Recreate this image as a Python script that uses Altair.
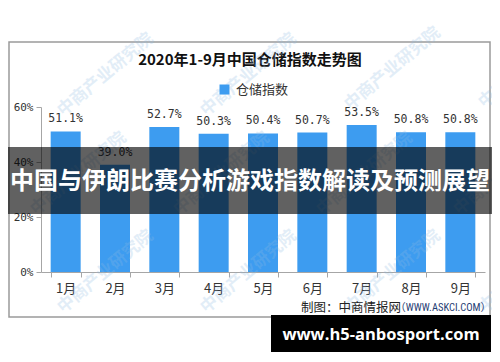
import altair as alt
import pandas as pd

# ---- data ----
months = ["1月", "2月", "3月", "4月", "5月", "6月", "7月", "8月", "9月"]
values = [51.1, 39.0, 52.7, 50.3, 50.4, 50.7, 53.5, 50.8, 50.8]
series_name = "仓储指数"
y_ticks = [0, 10, 20, 30, 40, 50, 60]
title_text = "2020年1-9月中国仓储指数走势图"
source_left = "制图：中商情报网"
source_right = "（WWW.ASKCI.COM）"
banner_text = "中国与伊朗比赛分析游戏指数解读及预测展望"
footer_text = "www.h5-anbosport.com"
watermark_text = "中商产业研究院"

df = pd.DataFrame({
    "month": months,
    "value": values,
    "series": [series_name] * len(months),
    "label": [f"{v:.1f}%" for v in values],
})

W, H = 444, 165
CJK = "Noto Sans CJK SC"
MONO = "DejaVu Sans Mono"
NARROW = "Liberation Sans Narrow, Roboto Condensed, Liberation Sans, Noto Sans CJK SC"

base = alt.Chart(df)

x_enc = alt.X("month:N", sort=months, title=None,
              scale=alt.Scale(paddingInner=0.39, paddingOuter=0.195),
              axis=alt.Axis(tickBand="extent", labelAngle=0, labelFont=CJK,
                            labelFontSize=13, labelColor="#333333",
                            labelPadding=5, tickSize=5,
                            domainColor="#a6a6a6", tickColor="#a6a6a6"))
y_enc = alt.Y("value:Q", title=None,
              scale=alt.Scale(domain=[0, 60], nice=False),
              axis=alt.Axis(values=y_ticks, labelExpr="datum.value + '%'",
                            labelFont=MONO, labelFontSize=11,
                            labelColor="#333333", labelPadding=3,
                            tickSize=5, grid=False,
                            domainColor="#a6a6a6", tickColor="#a6a6a6"))

one = pd.DataFrame({"a": [0]})

frame = alt.Chart(one).mark_rect(
    fillOpacity=0, stroke="#9a9a9a", strokeWidth=1.5
).encode(x=alt.value(-32), x2=alt.value(449), y=alt.value(-65), y2=alt.value(210))

bars = base.mark_bar(size=30).encode(
    x=x_enc, y=y_enc,
    color=alt.Color("series:N", scale=alt.Scale(range=["#3d9cf0"]),
                    legend=alt.Legend(title=None, orient="none", legendX=177,
                                      legendY=-24, symbolType="square",
                                      symbolSize=100, symbolStrokeWidth=0,
                                      labelFont=CJK, labelFontSize=13,
                                      labelOffset=5,
                                      labelColor="#333333", padding=0)),
)

labels = base.mark_text(baseline="bottom", dy=-7, font=MONO, fontSize=11.5,
                        color="#333333").encode(
    x=alt.X("month:N", sort=months), y="value:Q", text="label:N")

title = alt.Chart(one).mark_text(
    text=title_text, font=CJK, fontSize=15, fontWeight="bold",
    color="#111111", align="center", baseline="middle"
).encode(x=alt.value(209), y=alt.value(-47))

wm_layers = []
for px, py in [(19, 6), (162, 6), (306, 0), (440, -2),
               (-8, 105), (135, 105), (278, 105), (415, 105),
               (19, 203), (162, 203), (306, 203), (440, 203)]:
    wm_layers.append(alt.Chart(one).mark_text(
        text=watermark_text, font=CJK, fontSize=17, fontWeight="bold",
        color="#8fbbe3", opacity=0.25, align="left", baseline="middle",
        angle=320
    ).encode(x=alt.value(px), y=alt.value(py)))

src1 = alt.Chart(one).mark_text(
    text=source_left, font=CJK, fontSize=12.5, color="#222222",
    align="right", baseline="middle"
).encode(x=alt.value(360), y=alt.value(201))
src2 = alt.Chart(one).mark_text(
    text=source_right, font=NARROW, fontSize=10.5, color="#1f3d73",
    align="right", baseline="middle"
).encode(x=alt.value(450), y=alt.value(201))

banner = alt.Chart(one).mark_rect(color="#000000", opacity=0.62).encode(
    x=alt.value(-41), x2=alt.value(459), y=alt.value(40), y2=alt.value(107))
banner_t = alt.Chart(one).mark_text(
    text=banner_text, font=CJK, fontSize=24, fontWeight="bold",
    color="#ffffff", align="center", baseline="middle"
).encode(x=alt.value(209), y=alt.value(75))

footer = alt.Chart(one).mark_rect(color="#000000").encode(
    x=alt.value(230), x2=alt.value(450), y=alt.value(208), y2=alt.value(246))
footer_t = alt.Chart(one).mark_text(
    text=footer_text, font="Open Sans", fontSize=16.5, fontWeight="bold",
    color="#ffffff", align="center", baseline="middle"
).encode(x=alt.value(340), y=alt.value(228))

chart = alt.layer(
    frame, bars, labels, title, *wm_layers, src1, src2,
    banner, banner_t, footer, footer_t
).properties(
    width=W, height=H,
    autosize=alt.AutoSizeParams(type="none"),
    padding={"left": 33, "top": 99, "right": 7, "bottom": 80},
    background="#ffffff",
).configure_view(stroke=None)

chart.save("out.html", embed_options={"renderer": "svg", "actions": False})
